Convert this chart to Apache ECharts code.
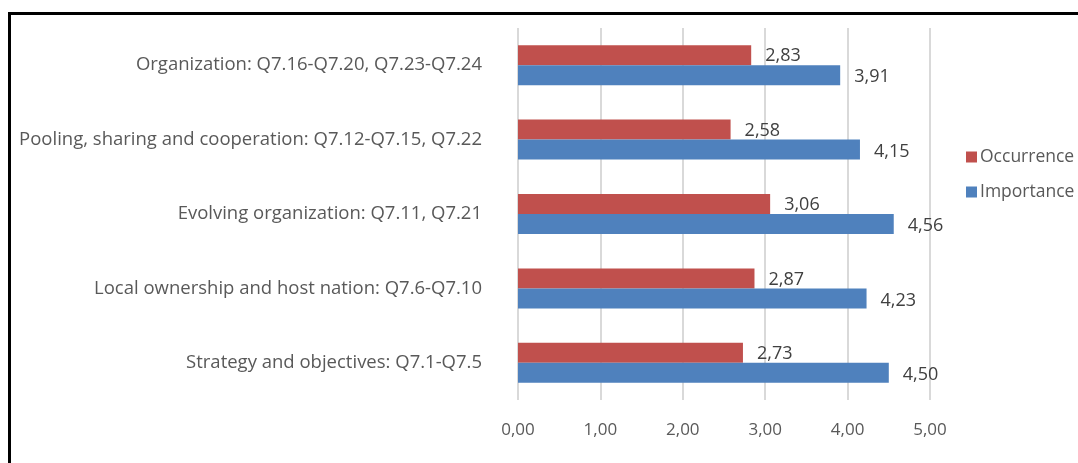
<!DOCTYPE html>
<html>
<head>
<meta charset="utf-8">
<script src="https://cdn.jsdelivr.net/npm/echarts@6/dist/echarts.min.js"></script>
<style>
  html, body { margin: 0; padding: 0; background: #fff; }
  #frame { position: absolute; left: 8px; top: 12px; width: 1080px; height: 460px;
           border-left: 3px solid #000; border-top: 3px solid #000; }
  #chart { position: absolute; left: 0; top: 0; width: 1078px; height: 463px; }
</style>
</head>
<body>
<div id="frame"></div>
<div id="chart"></div>
<script>
// bottom to top, as the y axis draws them
let categories = [
    'Strategy and objectives: Q7.1-Q7.5',
    'Local ownership and host nation: Q7.6-Q7.10',
    'Evolving organization: Q7.11, Q7.21',
    'Pooling, sharing and cooperation: Q7.12-Q7.15, Q7.22',
    'Organization: Q7.16-Q7.20, Q7.23-Q7.24'
];
let importance = [4.50, 4.23, 4.56, 4.15, 3.91];
let occurrence = [2.73, 2.87, 3.06, 2.58, 2.83];
let ticks = [0, 1, 2, 3, 4, 5];

function comma(v, d) {
    return Number(v).toFixed(d).replace('.', ',');
}

let myChart = echarts.init(document.getElementById('chart'));
let font = '"Open Sans", sans-serif';
let option = {
    animation: false,
    textStyle: { fontFamily: font },
    grid: { left: 518, right: 148, top: 28, bottom: 63 },
    legend: {
        orient: 'vertical',
        left: 961,
        top: 143,
        itemWidth: 11,
        itemHeight: 11,
        itemGap: 17,
        icon: 'rect',
        data: ['Occurrence', 'Importance'],
        textStyle: { fontSize: 17.5, color: '#595959', fontFamily: font, padding: [0, 0, 0, -2] }
    },
    xAxis: {
        type: 'value',
        min: ticks[0],
        max: ticks[ticks.length - 1],
        interval: 1,
        axisLine: { show: false },
        axisTick: { show: false },
        splitLine: { lineStyle: { color: '#d9d9d9', width: 2 } },
        axisLabel: {
            margin: 22,
            fontSize: 17,
            color: '#595959',
            formatter: function (v) { return comma(v, 2); }
        }
    },
    yAxis: {
        type: 'category',
        data: categories,
        axisLine: { show: false },
        axisTick: { show: false },
        axisLabel: { margin: 36, fontSize: 18.5, color: '#595959', padding: [5, 0, 0, 0] }
    },
    series: [
        {
            name: 'Occurrence',
            type: 'bar',
            data: occurrence,
            barWidth: 20,
            barGap: '0%',
            itemStyle: { color: '#c0504d' },
            label: {
                show: true, position: 'right', distance: 14, fontSize: 18, color: '#404040',
                offset: [0, 1],
                formatter: function (p) { return comma(p.value, 2); }
            }
        },
        {
            name: 'Importance',
            type: 'bar',
            data: importance,
            barWidth: 20,
            barGap: '0%',
            itemStyle: { color: '#4f81bd' },
            label: {
                show: true, position: 'right', distance: 14, fontSize: 18, color: '#404040',
                offset: [0, 2],
                formatter: function (p) { return comma(p.value, 2); }
            }
        }
    ]
};
myChart.setOption(option);
</script>
</body>
</html>
